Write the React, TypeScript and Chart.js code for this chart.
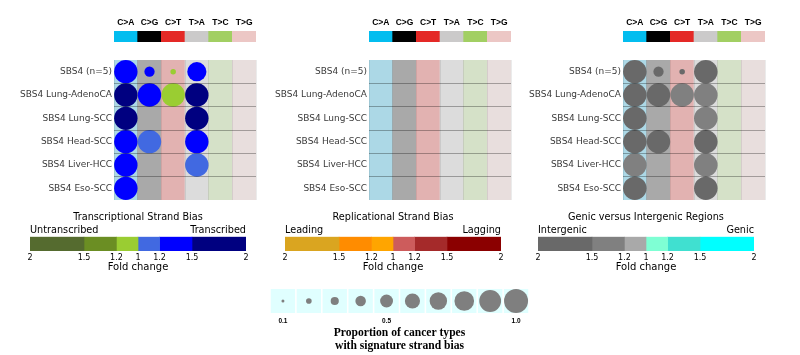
import React, { useEffect, useRef } from 'react';
import { Chart, registerables } from 'chart.js';

Chart.register(...registerables);
Chart.defaults.font.family = "'DejaVu Sans'";
Chart.defaults.color = '#000';

// ---------- data ----------
const mutationTypes = ['C>A', 'C>G', 'C>T', 'T>A', 'T>C', 'T>G'];
const mutationColors = ['#03bdef', '#010101', '#e42926', '#cbcaca', '#a2cf63', '#ecc7c5'];
const columnShades = ['#acd8e6', '#a9a9a9', '#e2b2b1', '#dcdcdc', '#d5e1c8', '#e8dedd'];
const rowLabels = ['SBS4 (n=5)', 'SBS4 Lung-AdenoCA', 'SBS4 Lung-SCC', 'SBS4 Head-SCC', 'SBS4 Liver-HCC', 'SBS4 Eso-SCC'];

// signed fold change: negative = left category (untranscribed / leading / intergenic)
const transcriptionFold = [
  [1.3, 1.3, -1.1, 1.3, 0, 0],
  [1.6, 1.3, -1.1, 1.6, 0, 0],
  [1.6, 0, 0, 1.6, 0, 0],
  [1.3, 1.1, 0, 1.3, 0, 0],
  [1.3, 0, 0, 1.1, 0, 0],
  [1.3, 0, 0, 0, 0, 0],
];
const transcriptionProportion = [
  [1.0, 0.4, 0.2, 0.8, 0, 0],
  [1.0, 1.0, 1.0, 1.0, 0, 0],
  [1.0, 0, 0, 1.0, 0, 0],
  [1.0, 1.0, 0, 1.0, 0, 0],
  [1.0, 0, 0, 1.0, 0, 0],
  [1.0, 0, 0, 0, 0, 0],
];
const replicationFold = [
  [0, 0, 0, 0, 0, 0],
  [0, 0, 0, 0, 0, 0],
  [0, 0, 0, 0, 0, 0],
  [0, 0, 0, 0, 0, 0],
  [0, 0, 0, 0, 0, 0],
  [0, 0, 0, 0, 0, 0],
];
const replicationProportion = [
  [0, 0, 0, 0, 0, 0],
  [0, 0, 0, 0, 0, 0],
  [0, 0, 0, 0, 0, 0],
  [0, 0, 0, 0, 0, 0],
  [0, 0, 0, 0, 0, 0],
  [0, 0, 0, 0, 0, 0],
];
const genicFold = [
  [-1.6, -1.6, -1.6, -1.6, 0, 0],
  [-1.6, -1.6, -1.3, -1.3, 0, 0],
  [-1.6, 0, 0, -1.3, 0, 0],
  [-1.6, -1.6, 0, -1.6, 0, 0],
  [-1.3, 0, 0, -1.3, 0, 0],
  [-1.6, 0, 0, -1.6, 0, 0],
];
const genicProportion = [
  [1.0, 0.4, 0.2, 1.0, 0, 0],
  [1.0, 1.0, 1.0, 1.0, 0, 0],
  [1.0, 0, 0, 1.0, 0, 0],
  [1.0, 1.0, 0, 1.0, 0, 0],
  [1.0, 0, 0, 1.0, 0, 0],
  [1.0, 0, 0, 1.0, 0, 0],
];

const foldBoundaries = [2, 1.5, 1.2, 1];
const foldTickLabels = ['2', '1.5', '1.2', '1', '1.2', '1.5', '2'];
const transcriptionColors = ['#556b2f', '#6b8e23', '#9acd32', '#4169e1', '#0000ff', '#000080'];
const replicationColors = ['#daa520', '#ff8c00', '#ffa500', '#cd5c5c', '#a52a2a', '#8b0000'];
const genicColors = ['#696969', '#808080', '#a9a9a9', '#7fffd4', '#40e0d0', '#00ffff'];
const biasTitles = ['Transcriptional Strand Bias', 'Replicational Strand Bias', 'Genic versus Intergenic Regions'];
const biasEnds = [['Untranscribed', 'Transcribed'], ['Leading', 'Lagging'], ['Intergenic', 'Genic']];
const foldAxisTitle = 'Fold change';

const legendProportions = [0.1, 0.2, 0.3, 0.4, 0.5, 0.6, 0.7, 0.8, 0.9, 1.0];
const legendTickLabels = ['0.1', '', '', '', '0.5', '', '', '', '', '1.0'];
const legendTitle = ['Proportion of cancer types', 'with signature strand bias'];

// ---------- helpers ----------
function foldColor(colors: string[], v: number) {
  const m = Math.abs(v);
  const bin = m >= foldBoundaries[1] ? 0 : m >= foldBoundaries[2] ? 1 : 2;
  return v < 0 ? colors[bin] : colors[5 - bin];
}
const circleRadius = (p: number, max: number) => max * Math.pow(p, 0.9);

const PANEL_LEFT = [114, 369, 623];
const PANEL_W = 142;
const PANEL_TOP = 60;
const PANEL_H = 140;
const PAD = 13;
const BAR_LEFT = [30, 285, 538];
const BAR_W = 216;

const base = {
  animation: false as const,
  responsive: false,
  events: [] as any[],
};

function stripConfig(): any {
  return {
    type: 'bar',
    data: {
      labels: mutationTypes,
      datasets: [{ data: mutationTypes.map(() => 1), backgroundColor: mutationColors, barPercentage: 1, categoryPercentage: 1, borderWidth: 0 }],
    },
    options: {
      ...base,
      layout: { padding: { left: 10, right: 10, top: 0, bottom: 0 } },
      plugins: { legend: { display: false }, tooltip: { enabled: false } },
      scales: {
        x: {
          position: 'top', offset: true,
          grid: { display: false, drawTicks: false }, border: { display: false },
          ticks: { color: '#000', font: { family: "'Liberation Sans'", size: 8.5, weight: 'bold' }, padding: 3, maxRotation: 0, autoSkip: false },
          afterFit: (s: any) => { s.height = 21; },
        },
        y: { display: false, min: 0, max: 1 },
      },
    },
  };
}

function gridConfig(fold: number[][], prop: number[][], colors: string[]): any {
  const points: any[] = [];
  rowLabels.forEach((row, r) => mutationTypes.forEach((mt, c) => {
    if (prop[r][c] > 0) points.push({ x: mt, y: row, fold: fold[r][c], p: prop[r][c] });
  }));
  return {
    type: 'bar',
    data: {
      labels: mutationTypes,
      datasets: [
        {
          type: 'bubble', data: points, xAxisID: 'x', yAxisID: 'y', order: 0, clip: false,
          backgroundColor: (ctx: any) => (ctx.raw ? foldColor(colors, ctx.raw.fold) : '#000'),
          radius: (ctx: any) => (ctx.raw ? circleRadius(ctx.raw.p, 11.7) : 0),
          borderWidth: 0, hoverRadius: 0, hoverBorderWidth: 0,
        },
        {
          type: 'bar', data: mutationTypes.map(() => 1), xAxisID: 'x', yAxisID: 'yb', order: 1,
          backgroundColor: columnShades, barPercentage: 1, categoryPercentage: 1, borderWidth: 0,
        },
      ],
    },
    options: {
      ...base,
      layout: { padding: { left: 0, right: PAD, top: PAD, bottom: PAD } },
      plugins: { legend: { display: false }, tooltip: { enabled: false } },
      scales: {
        x: {
          type: 'category', labels: mutationTypes, offset: true, position: 'bottom',
          grid: { offset: true, z: 1, color: 'rgba(0,0,0,0.08)', drawTicks: false },
          border: { display: false }, ticks: { display: false },
          afterFit: (s: any) => { s.height = 0; },
        },
        y: {
          type: 'category', labels: rowLabels, offset: true, position: 'left',
          grid: {
            offset: true, z: 1, drawTicks: false,
            color: (ctx: any) => (ctx.index > 0 && ctx.index < rowLabels.length ? 'rgba(0,0,0,0.3)' : 'rgba(0,0,0,0)'),
          },
          border: { display: false },
          ticks: { color: '#3a3a3a', font: { family: "'DejaVu Sans'", size: 9 }, padding: 2, autoSkip: false },
          afterFit: (s: any) => { s.width = 115; },
        },
        yb: { type: 'linear', min: 0, max: 1, display: false },
      },
    },
  };
}

function colorbarConfig(colors: string[], title: string, ends: string[]): any {
  const widths: number[] = [];
  for (let i = 0; i < 3; i++) widths.push(foldBoundaries[i] - foldBoundaries[i + 1]);
  const allWidths = [...widths, ...widths.slice().reverse()];
  const ticks = [
    ...foldBoundaries.map((b) => foldBoundaries[0] - b),
    ...foldBoundaries.slice(0, 3).reverse(),
  ];
  return {
    type: 'bar',
    data: {
      labels: [title],
      datasets: allWidths.map((w, i) => ({ data: [w], backgroundColor: colors[i], barPercentage: 1, categoryPercentage: 1, borderWidth: 0 })),
    },
    options: {
      ...base,
      indexAxis: 'y',
      layout: { padding: { left: 10, right: 10, top: 0, bottom: 0 } },
      plugins: {
        legend: { display: false }, tooltip: { enabled: false },
        title: { display: true, text: title, color: '#000', font: { family: "'DejaVu Sans'", size: 9.7, weight: 'normal' }, padding: { top: 7, bottom: 0 } },
      },
      scales: {
        x: {
          type: 'linear', min: 0, max: foldBoundaries[0], stacked: true, position: 'bottom',
          afterBuildTicks: (s: any) => { s.ticks = ticks.map((v) => ({ value: v })); },
          ticks: { callback: (_v: any, i: number) => foldTickLabels[i], color: '#000', font: { size: 8 }, padding: 2, maxRotation: 0, autoSkip: false },
          grid: { display: false, drawTicks: false }, border: { display: false },
          title: { display: true, text: foldAxisTitle, color: '#000', font: { size: 10 }, padding: { top: 0, bottom: 2 } },
          afterFit: (s: any) => { s.height = 24; },
        },
        xTop: {
          type: 'linear', axis: 'x', min: 0, max: foldBoundaries[0], position: 'top',
          afterBuildTicks: (s: any) => { s.ticks = [{ value: 0 }, { value: foldBoundaries[0] }]; },
          ticks: { callback: (_v: any, i: number) => ends[i], align: 'inner', color: '#000', font: { size: 9.7 }, padding: 0, maxRotation: 0, autoSkip: false },
          grid: { display: false, drawTicks: false }, border: { display: false },
          afterFit: (s: any) => { s.height = 13; },
        },
        y: { display: false, stacked: true },
      },
    },
  };
}

function legendConfig(): any {
  const cats = legendProportions.map((p) => p.toFixed(1));
  return {
    type: 'bar',
    data: {
      labels: cats,
      datasets: [
        {
          type: 'bubble', xAxisID: 'x', yAxisID: 'yc', order: 0, clip: false,
          data: legendProportions.map((p, i) => ({ x: cats[i], y: 'proportion', p })),
          backgroundColor: '#7f7f7f', borderWidth: 0, hoverRadius: 0,
          radius: (ctx: any) => (ctx.raw ? circleRadius(ctx.raw.p, 12) : 0),
        },
        {
          type: 'bar', xAxisID: 'x', yAxisID: 'y', order: 1,
          data: legendProportions.map(() => 1), backgroundColor: '#e0ffff',
          barPercentage: 1, categoryPercentage: 0.94, borderWidth: 0,
        },
      ],
    },
    options: {
      ...base,
      layout: { padding: { left: PAD, right: PAD, top: PAD, bottom: 0 } },
      plugins: { legend: { display: false }, tooltip: { enabled: false } },
      scales: {
        x: {
          type: 'category', labels: cats, offset: true,
          grid: { display: false, drawTicks: false }, border: { display: false },
          ticks: { callback: (_v: any, i: number) => legendTickLabels[i], color: '#000', font: { family: "'Liberation Sans'", size: 6.5, weight: 'bold' }, padding: 4, maxRotation: 0, autoSkip: false },
          title: { display: true, text: legendTitle, color: '#000', font: { family: "'Liberation Serif'", size: 11.6, weight: 'bold', lineHeight: 1.1 }, padding: { top: 0, bottom: 2.6 } },
          afterFit: (s: any) => { s.height = 42; },
        },
        y: { type: 'linear', min: 0, max: 1, display: false },
        yc: { type: 'category', labels: ['proportion'], offset: true, display: false },
      },
    },
  };
}

function ChartCanvas({ x, y, w, h, make }: { x: number; y: number; w: number; h: number; make: () => any }) {
  const ref = useRef<HTMLCanvasElement>(null);
  useEffect(() => {
    const chart = new Chart(ref.current as HTMLCanvasElement, make());
    return () => chart.destroy();
  }, []);
  return (
    <canvas ref={ref} width={w} height={h}
      style={{ position: 'absolute', left: x, top: y, width: w, height: h }} />
  );
}

export default function App() {
  const folds = [transcriptionFold, replicationFold, genicFold];
  const props = [transcriptionProportion, replicationProportion, genicProportion];
  const colorSets = [transcriptionColors, replicationColors, genicColors];
  return (
    <div style={{ position: 'absolute', left: 0, top: 0, width: 800, height: 355, background: '#fff', overflow: 'hidden' }}>
      {PANEL_LEFT.map((left, i) => (
        <React.Fragment key={i}>
          <ChartCanvas x={left - 10} y={10} w={PANEL_W + 20} h={32} make={() => stripConfig()} />
          <ChartCanvas x={left - 115} y={PANEL_TOP - PAD} w={115 + PANEL_W + PAD} h={PANEL_H + 2 * PAD}
            make={() => gridConfig(folds[i], props[i], colorSets[i])} />
          <ChartCanvas x={BAR_LEFT[i] - 10} y={205} w={BAR_W + 20} h={70} make={() => colorbarConfig(colorSets[i], biasTitles[i], biasEnds[i])} />
        </React.Fragment>
      ))}
      <ChartCanvas x={270 - PAD} y={289 - PAD} w={259 + 2 * PAD} h={PAD + 24 + 42} make={() => legendConfig()} />
    </div>
  );
}
